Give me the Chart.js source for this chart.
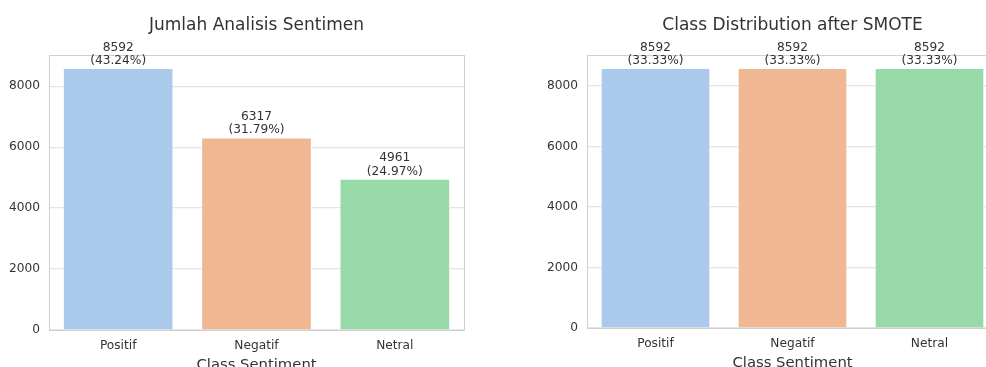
<!DOCTYPE html>
<html>
<head>
<meta charset="utf-8">
<script src="https://cdn.jsdelivr.net/npm/chart.js@4.4.1/dist/chart.umd.min.js"></script>
<style>
  html, body { margin: 0; padding: 0; background: #fff; overflow: hidden; width: 986px; height: 367px; }
  .box { position: absolute; top: 0; }
</style>
</head>
<body>
<div class="box" style="left:0px"><canvas id="chartBefore" width="500" height="390"></canvas></div>
<div class="box" style="left:500px"><canvas id="chartAfter" width="530" height="390"></canvas></div>
<script>
// data
var categories = ["Positif", "Negatif", "Netral"];
var countsBefore = [8592, 6317, 4961];
var countsAfter = [8592, 8592, 8592];
var yTicks = [0, 2000, 4000, 6000, 8000];
var barColors = ['#abc9ea', '#efb792', '#98daa7'];

var FONT = "'DejaVu Sans', sans-serif";
var TEXT = '#333333';

// frame + count labels on top of the bars
var extras = {
    id: 'extras',
    afterDatasetsDraw: function(chart, args, opts) {
        var ctx = chart.ctx, a = chart.chartArea;
        var vals = chart.data.datasets[0].data;
        var total = vals.reduce(function(s, v) { return s + v; }, 0);
        ctx.save();
        ctx.strokeStyle = '#d0d0d0';
        ctx.lineWidth = 1;
        ctx.strokeRect(a.left + 0.5, a.top + 0.5, a.right - a.left, a.bottom - a.top);
        ctx.fillStyle = TEXT;
        ctx.font = '12.2px ' + FONT;
        ctx.textAlign = 'center';
        ctx.textBaseline = 'alphabetic';
        chart.getDatasetMeta(0).data.forEach(function(bar, i) {
            var pct = (vals[i] / total * 100).toFixed(2);
            ctx.fillText(String(vals[i]), bar.x, bar.y - 17.5);
            ctx.fillText('(' + pct + '%)', bar.x, bar.y - 4);
        });
        // title
        ctx.font = '17px ' + FONT;
        ctx.fillText(opts.title, (a.left + a.right) / 2, 30);
        ctx.restore();
    }
};

function makeChart(id, title, values, yWidth, xHeight, padRight, xTitlePad) {
    var maxVal = Math.max.apply(null, values);
    return new Chart(document.getElementById(id), {
        type: 'bar',
        data: {
            labels: categories,
            datasets: [{
                data: values,
                backgroundColor: barColors,
                borderColor: 'rgba(255,255,255,0.7)',
                borderWidth: 1,
                barPercentage: 0.8,
                categoryPercentage: 1.0
            }]
        },
        options: {
            responsive: false,
            animation: false,
            devicePixelRatio: 1,
            layout: { padding: { top: 55, right: padRight, left: 0, bottom: 0 } },
            plugins: {
                legend: { display: false },
                tooltip: { enabled: false },
                extras: { title: title }
            },
            scales: {
                x: {
                    grid: { display: false, drawTicks: false },
                    border: { display: false },
                    ticks: { color: TEXT, font: { family: FONT, size: 12.2 }, padding: 9 },
                    title: {
                        display: true, text: 'Class Sentiment', color: TEXT,
                        font: { family: FONT, size: 14.8 },
                        padding: { top: 0, bottom: xTitlePad }
                    },
                    afterFit: function(s) { s.height = xHeight; }
                },
                y: {
                    min: 0,
                    max: maxVal * 1.05,
                    grid: { color: '#e4e4e4', lineWidth: 1.2, drawTicks: false },
                    border: { display: false },
                    ticks: {
                        color: TEXT, font: { family: FONT, size: 12.2 }, padding: 9,
                        callback: function(v) { return String(v); }
                    },
                    afterBuildTicks: function(s) {
                        s.ticks = yTicks.map(function(v) { return { value: v }; });
                    },
                    afterFit: function(s) { s.width = yWidth; }
                }
            }
        },
        plugins: [extras]
    });
}

makeChart('chartBefore', 'Jumlah Analisis Sentimen', countsBefore, 49, 60, 36, 16);
makeChart('chartAfter', 'Class Distribution after SMOTE', countsAfter, 87, 62, 32, 18);
</script>
</body>
</html>
